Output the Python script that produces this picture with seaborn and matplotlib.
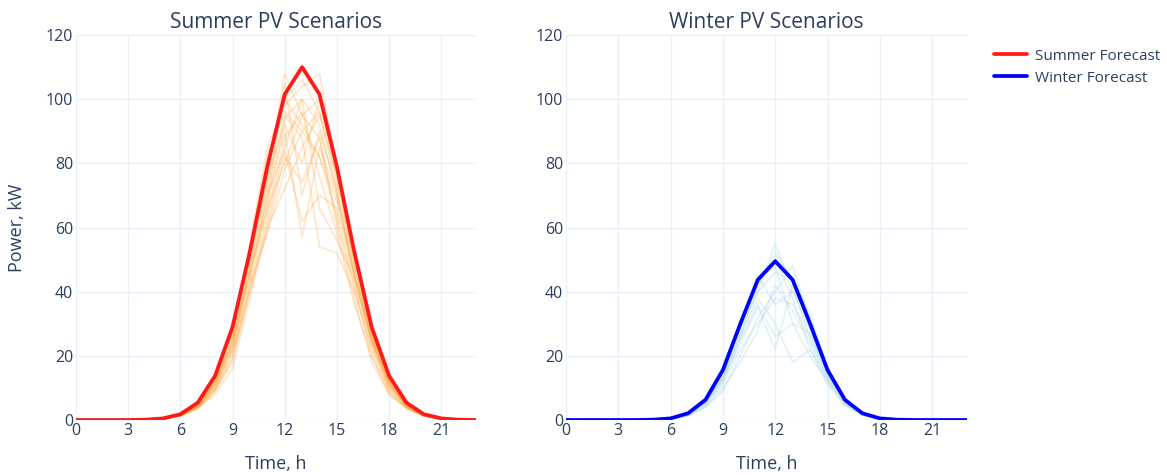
import matplotlib
matplotlib.use("Agg")
import matplotlib.pyplot as plt
import seaborn as sns
import pandas as pd
from matplotlib.lines import Line2D

hours = list(range(24))

summer_forecast = [0, 0, 0, 0, 0.1, 0.5, 1.8, 5.4, 13.8, 29, 52.5, 79, 101.5, 110,
                   101.5, 79, 52.5, 29, 13.8, 5.4, 1.8, 0.5, 0.1, 0]
winter_forecast = [0, 0, 0, 0, 0, 0.1, 0.5, 2.1, 6.3, 15.6, 30, 43.7, 49.5, 43.7,
                   30, 15.6, 6.3, 2.1, 0.5, 0.1, 0, 0, 0, 0]

summer_scenarios = [
    [0, 0, 0, 0, 0.1, 0.4, 1.5, 4.5, 12, 26, 50, 75, 108, 95, 100, 76, 50, 27, 12, 4.8, 1.6, 0.4, 0.1, 0],
    [0, 0, 0, 0, 0.1, 0.4, 1.4, 4.0, 10, 22, 44, 70, 90, 57, 85, 70, 46, 25, 11, 4.5, 1.5, 0.4, 0.1, 0],
    [0, 0, 0, 0, 0.1, 0.5, 1.7, 5.0, 13, 28, 55, 85, 98, 104, 108, 78, 48, 26, 12, 5, 1.7, 0.5, 0.1, 0],
    [0, 0, 0, 0, 0.1, 0.3, 1.2, 3.5, 9, 18, 40, 62, 85, 100, 92, 70, 44, 24, 10, 4, 1.4, 0.4, 0.1, 0],
    [0, 0, 0, 0, 0.1, 0.4, 1.5, 4.6, 12, 24, 48, 72, 95, 88, 54, 52, 40, 22, 9, 3.8, 1.3, 0.4, 0.1, 0],
    [0, 0, 0, 0, 0.1, 0.4, 1.6, 4.8, 12.5, 27, 52, 80, 100, 92, 82, 64, 42, 20, 8, 4, 1.4, 0.4, 0.1, 0],
    [0, 0, 0, 0, 0.1, 0.3, 1.2, 3.8, 8, 16, 38, 60, 72, 85, 95, 76, 52, 28, 13, 5, 1.6, 0.5, 0.1, 0],
    [0, 0, 0, 0, 0.1, 0.4, 1.5, 4.5, 11, 25, 46, 68, 105, 70, 90, 72, 48, 26, 12, 4.6, 1.6, 0.4, 0.1, 0],
    [0, 0, 0, 0, 0.1, 0.4, 1.4, 4.2, 10.5, 22, 45, 66, 80, 95, 88, 60, 38, 18, 8, 3.5, 1.2, 0.3, 0.1, 0],
    [0, 0, 0, 0, 0.1, 0.5, 1.7, 5.2, 13, 27, 51, 76, 92, 80, 100, 75, 50, 28, 13, 5, 1.7, 0.5, 0.1, 0],
    [0, 0, 0, 0, 0.1, 0.3, 1.3, 4.0, 9.5, 19, 42, 64, 88, 96, 76, 58, 36, 20, 9, 3.6, 1.3, 0.4, 0.1, 0],
    [0, 0, 0, 0, 0.1, 0.4, 1.6, 4.8, 12, 26, 54, 82, 96, 90, 96, 80, 53, 27, 12, 4.8, 1.6, 0.5, 0.1, 0],
    [0, 0, 0, 0, 0.1, 0.4, 1.5, 4.3, 11, 23, 47, 70, 84, 62, 70, 66, 45, 24, 11, 4.3, 1.5, 0.4, 0.1, 0],
    [0, 0, 0, 0, 0.1, 0.4, 1.5, 4.4, 11.5, 24, 49, 74, 100, 106, 96, 72, 45, 25, 11, 4.4, 1.5, 0.4, 0.1, 0],
    [0, 0, 0, 0, 0.1, 0.3, 1.3, 3.6, 9, 20, 42, 58, 78, 90, 82, 68, 46, 26, 12, 4.5, 1.5, 0.4, 0.1, 0],
    [0, 0, 0, 0, 0.1, 0.4, 1.4, 4.1, 10, 21, 40, 60, 82, 74, 88, 62, 41, 23, 10, 4.1, 1.4, 0.4, 0.1, 0],
    [0, 0, 0, 0, 0.1, 0.4, 1.5, 4.4, 11, 24, 46, 66, 94, 100, 66, 56, 44, 25, 11, 4.4, 1.5, 0.4, 0.1, 0],
]

winter_scenarios = [
    [0, 0, 0, 0, 0, 0.1, 0.4, 1.8, 5.5, 13, 27, 40, 55, 40, 28, 14, 5.5, 1.8, 0.4, 0.1, 0, 0, 0, 0],
    [0, 0, 0, 0, 0, 0.1, 0.4, 1.6, 5, 12, 24, 35, 22, 42, 25, 13, 5, 1.6, 0.4, 0.1, 0, 0, 0, 0],
    [0, 0, 0, 0, 0, 0.1, 0.5, 2, 6, 14, 29, 44, 48, 30, 20, 12, 5, 1.7, 0.4, 0.1, 0, 0, 0, 0],
    [0, 0, 0, 0, 0, 0.1, 0.3, 1.4, 4, 9, 20, 32, 40, 48, 31, 15, 6, 2, 0.5, 0.1, 0, 0, 0, 0],
    [0, 0, 0, 0, 0, 0.1, 0.4, 1.7, 5.5, 13, 26, 38, 30, 18, 22, 13, 5.5, 1.8, 0.4, 0.1, 0, 0, 0, 0],
    [0, 0, 0, 0, 0, 0.1, 0.5, 2, 6, 15, 30, 42, 52, 44, 30, 15, 6, 2, 0.5, 0.1, 0, 0, 0, 0],
    [0, 0, 0, 0, 0, 0.1, 0.4, 1.5, 4.5, 11, 22, 30, 38, 36, 26, 14, 5.5, 1.8, 0.4, 0.1, 0, 0, 0, 0],
    [0, 0, 0, 0, 0, 0.1, 0.4, 1.8, 5.8, 14, 28, 45, 36, 40, 32, 16, 6.5, 2.1, 0.5, 0.1, 0, 0, 0, 0],
    [0, 0, 0, 0, 0, 0.1, 0.3, 1.3, 4, 10, 18, 28, 42, 34, 24, 12, 4.8, 1.6, 0.4, 0.1, 0, 0, 0, 0],
    [0, 0, 0, 0, 0, 0.1, 0.5, 2, 6, 15, 29, 40, 46, 44, 33, 16, 6.2, 2, 0.5, 0.1, 0, 0, 0, 0],
    [0, 0, 0, 0, 0, 0.1, 0.4, 1.6, 5, 12, 25, 36, 26, 30, 27, 14, 5.8, 1.9, 0.5, 0.1, 0, 0, 0, 0],
    [0, 0, 0, 0, 0, 0.1, 0.4, 1.7, 5.3, 13, 26, 42, 50, 38, 22, 11, 4.5, 1.5, 0.4, 0.1, 0, 0, 0, 0],
]

x_ticks = [0, 3, 6, 9, 12, 15, 18, 21]
y_ticks = [0, 20, 40, 60, 80, 100, 120]

sns.set_theme(style="white")
plt.rcParams['font.family'] = ['Open Sans', 'DejaVu Sans']

TEXT = "#2a3f5f"
GRID = "#EBF0F8"

fig = plt.figure(figsize=(11.67, 4.75), dpi=100)
W, H = 1167, 475
ax1 = fig.add_axes([76 / W, 1 - 420 / H, 400 / W, 385 / H])
ax2 = fig.add_axes([566 / W, 1 - 420 / H, 401 / W, 385 / H])


def long_frame(scen):
    rows = []
    for i, s in enumerate(scen):
        for h, v in zip(hours, s):
            rows.append({"hour": h, "power": v, "scenario": i})
    return pd.DataFrame(rows)


panels = [
    (ax1, summer_scenarios, summer_forecast, "#FF9F30", 0.26, "#FF1A1A", "Summer PV Scenarios"),
    (ax2, winter_scenarios, winter_forecast, "#ADD8E6", 0.35, "#0000FF", "Winter PV Scenarios"),
]

for ax, scen, fc, scol, salpha, fcol, title in panels:
    df = long_frame(scen)
    sns.lineplot(data=df, x="hour", y="power", units="scenario", estimator=None,
                 color=scol, alpha=salpha, lw=1.2, ax=ax, legend=False)
    sns.lineplot(x=hours, y=fc, color=fcol, lw=2.7, ax=ax)
    ax.set_xlim(0, 23)
    ax.set_ylim(0, 120)
    ax.set_xticks(x_ticks)
    ax.set_yticks(y_ticks)
    ax.grid(True, color=GRID, lw=1)
    ax.set_axisbelow(True)
    for sp in ax.spines.values():
        sp.set_visible(False)
    ax.tick_params(axis="both", length=0, labelsize=11.5, colors=TEXT, pad=2)
    ax.set_xlabel("Time, h", fontsize=13, color=TEXT, labelpad=12)
    ax.set_ylabel("")
    ax.set_title(title, fontsize=15, color=TEXT, pad=5)

ax1.set_ylabel("Power, kW", fontsize=13, color=TEXT, labelpad=14)

handles = [Line2D([0], [0], color="#FF1A1A", lw=2.7),
           Line2D([0], [0], color="#0000FF", lw=2.7)]
fig.legend(handles, ["Summer Forecast", "Winter Forecast"],
           loc="upper left", bbox_to_anchor=(980 / W, 1 - 35 / H),
           frameon=False, fontsize=11, labelcolor=TEXT, handlelength=2.2,
           handletextpad=0.5, labelspacing=0.45)

fig.savefig("out.png", dpi=100)
